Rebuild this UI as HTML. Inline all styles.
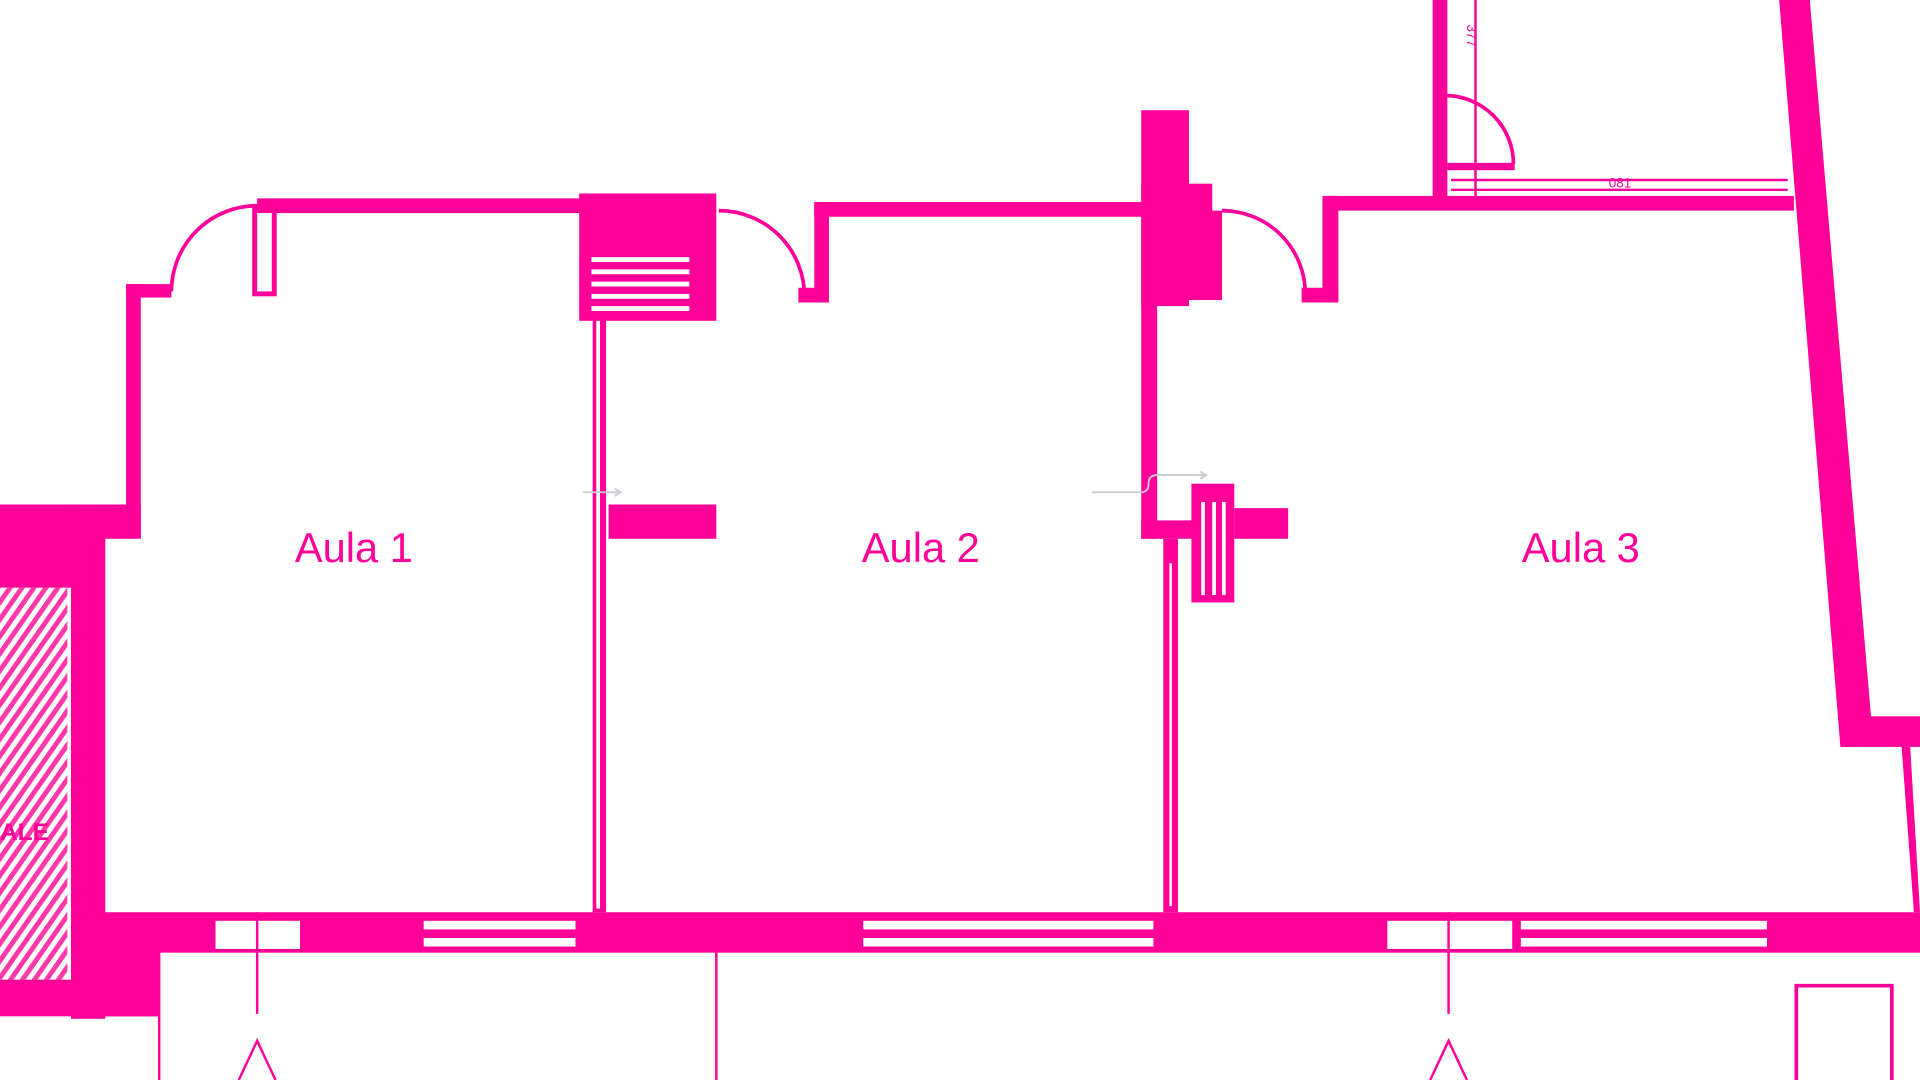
<!DOCTYPE html>
<html><head><meta charset="utf-8"><style>
html,body{margin:0;padding:0;background:#fff;width:1920px;height:1080px;overflow:hidden}
svg{display:block}
text{font-family:"Liberation Sans",sans-serif}
</style></head><body>
<svg width="1920" height="1080" viewBox="0 0 1568 882" xmlns="http://www.w3.org/2000/svg">
<defs>
<pattern id="h" width="8" height="8" patternUnits="userSpaceOnUse" patternTransform="rotate(35)">
<rect width="8" height="8" fill="#fff"/><rect width="4" height="8" fill="#ff3aa8"/></pattern>
</defs>
<g fill="#ff0099" stroke="none">
<rect x="210" y="162" width="280" height="12"/>
<rect x="103" y="232" width="37" height="11"/>
<rect x="103" y="232" width="12" height="207"/>
<rect x="0" y="412" width="115" height="28"/>
<rect x="58" y="412" width="28" height="420"/>
<rect x="0" y="800" width="130" height="30"/>
<rect x="58" y="775" width="72" height="55"/>
<rect x="0" y="412" width="60" height="68"/>
<rect x="85" y="745" width="1483" height="33"/>
<rect x="484" y="175" width="11" height="570"/>
<rect x="473" y="158" width="112" height="104"/>
<rect x="497" y="412" width="88" height="28"/>
<rect x="665" y="165" width="270" height="12"/>
<rect x="665" y="165" width="12" height="82"/>
<rect x="652" y="235" width="25" height="12"/>
<rect x="932" y="90" width="39" height="160"/>
<rect x="932" y="150" width="58" height="95"/>
<rect x="932" y="245" width="13" height="195"/>
<rect x="932" y="425" width="45" height="15"/>
<rect x="950" y="440" width="12" height="305"/>
<rect x="973" y="395" width="35" height="97"/>
<rect x="1008" y="415" width="44" height="25"/>
<rect x="988" y="172" width="10" height="73"/>
<rect x="1085" y="160" width="380" height="12"/>
<rect x="1080" y="160" width="13" height="87"/>
<rect x="1063" y="235" width="30" height="12"/>
<rect x="1170" y="0" width="12" height="165"/>
<rect x="1182" y="133" width="55" height="6"/>
<polygon points="1453,0 1478,0 1528,585 1503,610"/>
<rect x="1503" y="585" width="65" height="25"/>
<polygon points="1553,610 1560,610 1568,745 1563,745"/>
</g>
<g fill="#fff">
<rect x="176" y="752" width="69" height="23"/>
<rect x="346" y="752" width="124" height="7"/><rect x="346" y="766" width="124" height="7"/>
<rect x="705" y="752" width="237" height="7"/><rect x="705" y="766" width="237" height="7"/>
<rect x="1133" y="752" width="102" height="23"/>
<rect x="1242" y="752" width="201" height="7"/><rect x="1242" y="766" width="201" height="7"/>
<rect x="483" y="210" width="80" height="4"/><rect x="483" y="220" width="80" height="4"/>
<rect x="483" y="230" width="80" height="4"/><rect x="483" y="240" width="80" height="4"/>
<rect x="483" y="250" width="80" height="4"/>
<rect x="487" y="262" width="3" height="480"/>
<rect x="981" y="410" width="3" height="76"/><rect x="990" y="410" width="3" height="76"/><rect x="998" y="410" width="3" height="76"/>
<rect x="955" y="460" width="2" height="280"/>
</g>
<rect x="0" y="480" width="55" height="320" fill="url(#h)"/>
<text x="0" y="686" font-size="20" font-weight="bold" fill="#ff0099">ALE</text>
<g fill="none" stroke="#ff0099" stroke-width="3">
<path d="M140,238 A70,70 0 0 1 210,168"/>
<path d="M587,172 A70,70 0 0 1 657,242"/>
<path d="M998,172 A68,68 0 0 1 1066,240"/>
<path d="M1180,78 A56,56 0 0 1 1236,134"/>
<rect x="208" y="170" width="16" height="70" stroke-width="4"/>
<line x1="1205" y1="0" x2="1205" y2="162" stroke-width="2"/>
<line x1="1185" y1="147" x2="1460" y2="147" stroke-width="2"/>
<line x1="1185" y1="155" x2="1460" y2="155" stroke-width="2"/>
<line x1="130" y1="778" x2="130" y2="882" stroke-width="2"/>
<line x1="210" y1="745" x2="210" y2="828" stroke-width="2"/>
<path d="M195,882 L210,850 L225,882" stroke-width="2"/>
<line x1="585" y1="778" x2="585" y2="882" stroke-width="2"/>
<line x1="1183" y1="745" x2="1183" y2="828" stroke-width="2"/>
<path d="M1168,882 L1183,850 L1198,882" stroke-width="2"/>
<path d="M1467,882 V805 H1545 V882" stroke-width="3"/>
<line x1="1237" y1="750" x2="1237" y2="776" stroke-width="2"/>
</g>
<g fill="none" stroke="#c8ccd0" stroke-width="1.5">
<path d="M476,402 H506 M502,399 L507,402 L502,405"/>
<path d="M892,402 H932 Q938,402 938,395 Q938,388 945,388 H984 M980,385 L985,388 L980,391"/>
</g>
<g font-size="34" fill="#ff0099" text-anchor="middle">
<text x="289" y="459">Aula 1</text>
<text x="752" y="459">Aula 2</text>
<text x="1291" y="459">Aula 3</text>
</g>
<text x="1198" y="30" font-size="11" fill="#ff0099" transform="rotate(90 1203 25)">377</text>
<text x="1323" y="153" font-size="11" fill="#ff0099" text-anchor="middle">081</text>
</svg>
</body></html>
